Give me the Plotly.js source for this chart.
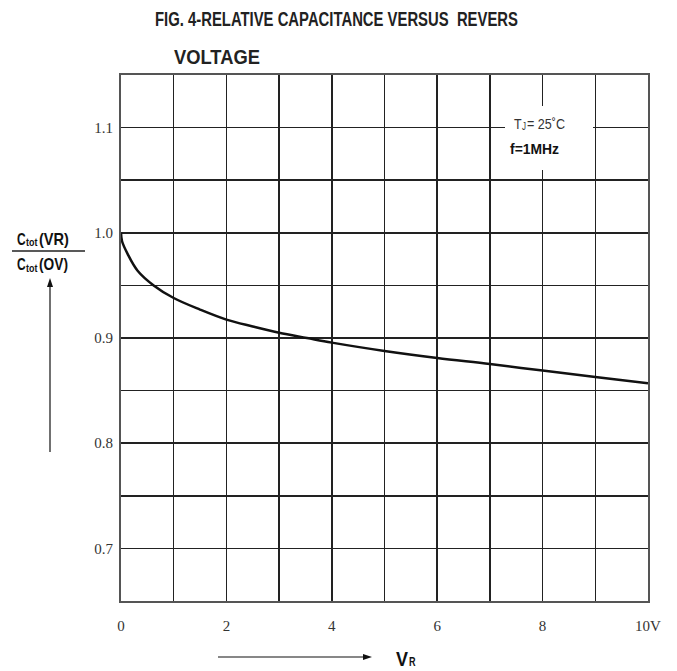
<!DOCTYPE html>
<html>
<head>
<meta charset="utf-8">
<script src="https://cdn.plot.ly/plotly-3.0.1.min.js"></script>
<style>html,body{margin:0;padding:0;background:#fff;}#chart{width:677px;height:671px;}</style>
</head>
<body>
<div id="chart"></div>
<script>
// Reverse voltage VR (V)
var voltage = [0, 0.02, 0.125, 0.315, 0.62, 1, 1.5, 2, 2.5, 3, 3.53, 4, 5, 6, 7, 8, 9, 10];
// Relative capacitance Ctot(VR)/Ctot(0V)
var relCap = [1.0, 0.992, 0.98, 0.964, 0.95, 0.938, 0.927, 0.9175, 0.911, 0.905, 0.9, 0.8956, 0.8877, 0.881, 0.8753, 0.869, 0.863, 0.857];

var xTickVals = [0, 2, 4, 6, 8, 10];
var xTickText = ["0", "2", "4", "6", "8", "10V"];
var yTickVals = [0.7, 0.8, 0.9, 1.0, 1.1];
var yTickText = ["0.7", "0.8", "0.9", "1.0", "1.1"];

var titleLine1 = "FIG. 4-RELATIVE CAPACITANCE VERSUS  REVERS";
var titleLine2 = "VOLTAGE";

var sans = "Liberation Sans, Arial, sans-serif";
var serif = "Liberation Serif, Times New Roman, serif";

// pixel -> paper helpers (plot area: x 121..648, y 75..601)
function px(x) { return (x - 121) / 527; }
function py(y) { return (601 - y) / 526; }

var trace = {
  x: voltage, y: relCap, type: "scatter", mode: "lines",
  line: {color: "#111", width: 2.5, shape: "spline", smoothing: 1},
  hoverinfo: "skip"
};

// annotation specs: [text, leftPx, centerYPx, size, targetWidthPx, color, bold]
var labels = [
  [titleLine1, 153, 19, 20, 363, "#222", true],
  [titleLine2, 172, 57, 20, 86, "#222", true],
  ["T", 512, 124, 14, 8, "#333", false],
  ["J", 520, 127, 10, 4, "#333", false],
  ["= 25˚C", 525, 124, 14, 38, "#333", false],
  ["f=1MHz", 508, 148, 15, 49, "#111", true],
  ["C", 15, 239, 16, 9, "#111", true],
  ["tot", 24, 243, 10, 12, "#111", true],
  ["(VR)", 37, 239, 16, 30, "#111", true],
  ["C", 15, 264, 16, 9, "#111", true],
  ["tot", 24, 268, 10, 12, "#111", true],
  ["(OV)", 37, 264, 16, 29, "#111", true],
  ["V", 394, 658, 21, 12, "#111", true],
  ["R", 407, 661, 13, 7, "#111", true]
];

var annotations = labels.map(function (l) {
  return {text: l[6] ? "<b>" + l[0] + "</b>" : l[0], xref: "paper", yref: "paper",
    x: px(l[1]), y: py(l[2]), xanchor: "left", yanchor: "middle", showarrow: false,
    font: {family: sans, size: l[3], color: l[5]}};
});

var gridStyle = {showgrid: true, gridcolor: "#222", gridwidth: 1.5, ticks: ""};

var layout = {
  width: 677, height: 671,
  margin: {l: 121, r: 29, t: 75, b: 70},
  paper_bgcolor: "#fff", plot_bgcolor: "#fff",
  showlegend: false,
  xaxis: {
    range: [0, 10], tickmode: "array", tickvals: xTickVals, ticktext: xTickText,
    showgrid: true, gridcolor: "#222", gridwidth: 1.5, zeroline: false,
    minor: Object.assign({tickmode: "linear", tick0: 0, dtick: 1}, gridStyle),
    showline: true, linecolor: "#555", linewidth: 2, mirror: true,
    ticks: "", ticklabelstandoff: 10,
    tickfont: {family: serif, size: 15, color: "#333"}
  },
  yaxis: {
    range: [0.65, 1.15], tickmode: "array", tickvals: yTickVals, ticktext: yTickText,
    showgrid: true, gridcolor: "#222", gridwidth: 1.5, zeroline: false,
    minor: Object.assign({tickmode: "linear", tick0: 0.65, dtick: 0.05}, gridStyle),
    showline: true, linecolor: "#555", linewidth: 2, mirror: true,
    ticks: "", ticklabelstandoff: 3,
    tickfont: {family: serif, size: 15, color: "#333"}
  },
  shapes: [
    {type: "rect", xref: "paper", yref: "paper",
     x0: px(505), x1: px(593), y0: py(170), y1: py(106),
     fillcolor: "#fff", line: {width: 0}, layer: "above"},
    // y label fraction bar
    {type: "line", xref: "paper", yref: "paper",
     x0: px(12), x1: px(85), y0: py(251), y1: py(251),
     line: {color: "#222", width: 1.5}},
    // vertical arrow shaft + head
    {type: "line", xref: "paper", yref: "paper",
     x0: px(50), x1: px(50), y0: py(452), y1: py(284),
     line: {color: "#111", width: 1.2}},
    {type: "path", xref: "paper", yref: "paper",
     path: "M" + px(50) + "," + py(278) + " L" + px(47) + "," + py(287) + " L" + px(53) + "," + py(287) + " Z",
     fillcolor: "#111", line: {width: 0}},
    // horizontal arrow shaft + head
    {type: "line", xref: "paper", yref: "paper",
     x0: px(218), x1: px(365), y0: py(657), y1: py(657),
     line: {color: "#111", width: 1.2}},
    {type: "path", xref: "paper", yref: "paper",
     path: "M" + px(372) + "," + py(657) + " L" + px(363) + "," + py(654) + " L" + px(363) + "," + py(660) + " Z",
     fillcolor: "#111", line: {width: 0}}
  ],
  annotations: annotations
};

Plotly.newPlot("chart", [trace], layout, {displayModeBar: false, staticPlot: true}).then(function (gd) {
  // condense annotation texts horizontally to mimic the narrow typeface of the original
  labels.forEach(function (l, i) {
    var el = gd.querySelector("g.annotation[data-index='" + i + "'] text.annotation-text");
    if (!el) return;
    var bb = el.getBBox();
    if (!bb.width) return;
    var s = l[4] / bb.width;
    var t = el.getAttribute("transform") || "";
    el.setAttribute("transform", t + " translate(" + bb.x + ",0) scale(" + s + ",1) translate(" + (-bb.x) + ",0)");
  });
});
</script>
</body>
</html>
